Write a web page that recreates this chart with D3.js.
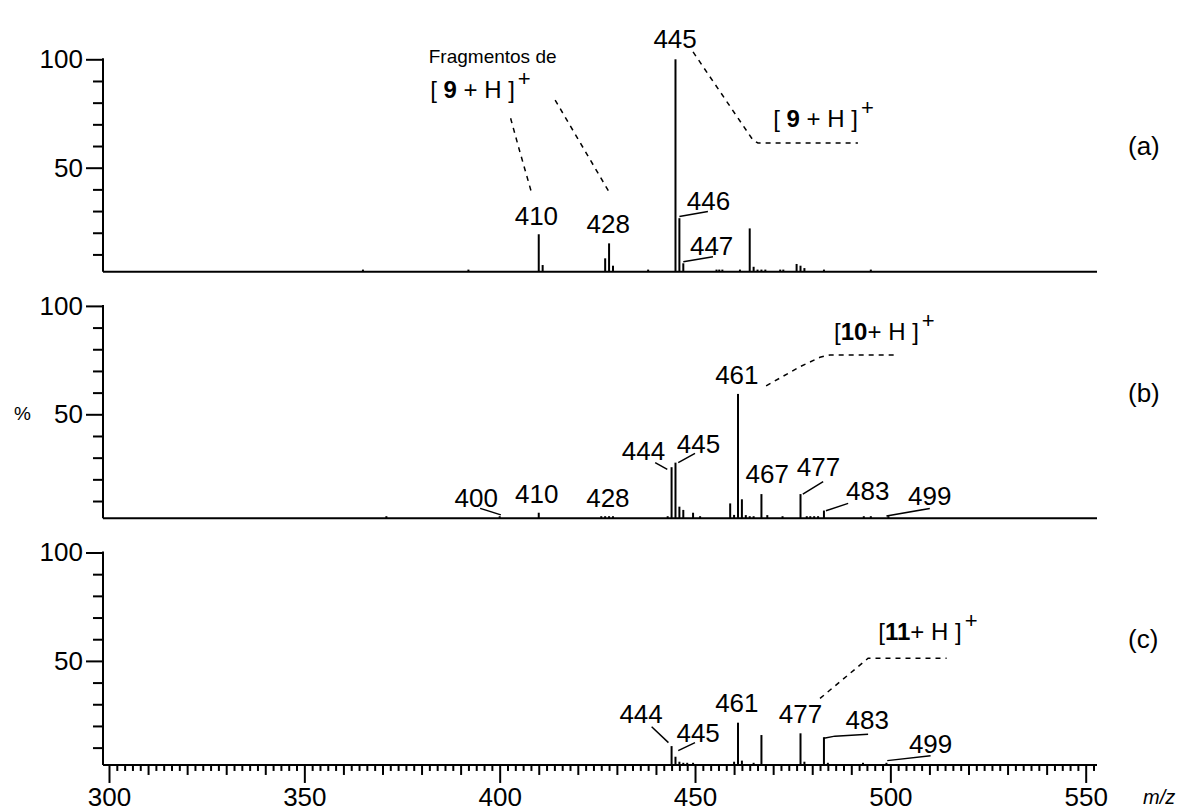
<!DOCTYPE html>
<html><head><meta charset="utf-8">
<script src="https://cdn.jsdelivr.net/npm/d3@7"></script>
<style>
body{margin:0;background:#fff}
svg{display:block}
text{font-family:"Liberation Sans",Arial,sans-serif;fill:#000;white-space:pre}
</style>
</head><body>
<svg id="c" width="1179" height="812"></svg>
<script>
// ---------- data ----------
const panelNames = ["(a)", "(b)", "(c)"];
const xMajorTicks = [300, 350, 400, 450, 500, 550];
const yMajorTicks = [50, 100];
const yMinorTicks = [10, 20, 30, 40, 60, 70, 80, 90];

// peaks: [m/z, relative intensity %]
const peaksA = [[365,3],[392,3],[410,19.3],[411,5.1],[427,8.2],[428,15.1],[429,4.8],[438,3],
  [445,100],[446,26.7],[447,5.9],[455.5,3],[456.2,3],[457,3],[461.5,3],[464,22],[465,4.3],
  [466,3],[467,3],[468,3],[471.8,3],[472.6,3],[476,5.6],[477,4.8],[478,3.7],[483,3],[495,3]];
const peaksB = [[371,3],[400,3],[410,4.6],[426,3],[427,3],[428,3],[429,3],[443,3],
  [444,25.6],[445,27.7],[446,7.4],[447,5.9],[449.5,4.6],[451.3,3],[459,8.9],[460,3.6],
  [461,59.4],[462,10.8],[463,3.5],[464,3],[465,3],[467,13.2],[468.5,3.5],[472.4,3],
  [477,13.2],[478.6,3],[479.5,3],[480.5,3],[481.5,3],[483,5.6],[493.2,3],[495,3],[499.5,3]];
const peaksC = [[444,10.7],[445,5.8],[446,3.5],[447,3],[448,3],[449.5,3],[460,3.5],
  [461,21.5],[462,4],[465,3],[467,15.8],[477,16.6],[478,3.5],[483,14.8],[484,3],[493,3],[499,3]];

// peak labels: [text, m/z, %, anchor]
const labelsA = [["445",444.9,105.1,"middle"],["410",409.4,23.6,"middle"],["428",427.8,19.7,"middle"],
  ["446",447.9,30.5,"start"],["447",448.7,9.7,"start"]];
const labelsB = [["400",394.0,7.4,"middle"],["410",409.5,9.2,"middle"],["428",427.7,7.4,"middle"],
  ["444",436.8,28.9,"middle"],["445",450.9,32.3,"middle"],["461",460.7,64,"middle"],
  ["467",468.5,18.2,"middle"],["477",481.6,21.5,"middle"],["483",494.2,10.5,"middle"],["499",510.1,8.2,"middle"]];
const labelsC = [["444",436.2,21.2,"middle"],["445",450.8,12.7,"middle"],["461",460.7,26.6,"middle"],
  ["477",477,21.2,"middle"],["483",494.1,18.5,"middle"],["499",510.3,7.7,"middle"]];

// solid leader lines (m/z, %)
const leadersA = [[[446,27.5],[453.3,29.8]],[[447,6.6],[454.6,8.9]]];
const leadersB = [[[395,6.6],[400.3,3.6]],[[439.8,27.7],[442.9,24.6]],[[445.7,27.7],[450,32]],
  [[477.6,13.2],[482.8,18.9]],[[483.5,5.5],[489.2,8.9]],[[499,3.1],[510.1,6.6]]];
const leadersC = [[[438.9,19.6],[443.2,12.3]],[[445.7,8.6],[450,12.3]],
  [[483,14.3],[485.8,15.3],[494.3,16.2]],[[499.2,4],[510.3,6.3]]];

// dashed callout lines (m/z, %)
const dashesA = [[[449.5,103.4],[464.8,62.8],[466.1,61.4],[491.7,61.4]],
  [[402.8,72.8],[404.8,59.7],[408.2,38.2]],
  [[414.2,81.2],[428.2,38.2]]];
const dashesB = [[[468.2,63.1],[476.9,72],[482,76.3],[484.5,77.4],[501.6,77.4]]];
const dashesC = [[[482,32.7],[494.3,51.2],[514.4,51.2]]];

// formula annotations: [compound number, m/z start, % baseline, spaced]
const formulasA = [["9",382.2,82.1,true],["9",470,68.9,true]];
const formulasB = [["10",485.6,84.3,false]];
const formulasC = [["11",496.9,59.6,false]];
const fragText = ["Fragmentos de", 398.2, 98.2];

const peaks = [peaksA, peaksB, peaksC];
const labels = [labelsA, labelsB, labelsC];
const leaders = [leadersA, leadersB, leadersC];
const dashes = [dashesA, dashesB, dashesC];
const formulas = [formulasA, formulasB, formulasC];

// ---------- drawing ----------
const PANEL_OFFSET = 246.6;
const BASE = 2;
const AXIS_X = 103, AXIS_END = 1097;
const x = d3.scaleLinear().domain([300, 550]).range([109, 1085.7]);
const y = d3.scaleLinear().domain([0, 100]).range([276.1, 59.3]);
const line = d3.line().x(d => x(d[0])).y(d => y(d[1]));
const svg = d3.select("#c");
svg.append("rect").attr("width", 1179).attr("height", 812).attr("fill", "#fff");

panelNames.forEach((name, i) => {
  const g = svg.append("g").attr("transform", `translate(0,${i * PANEL_OFFSET})`);

  // y axis
  const yMaj = g.append("g").attr("transform", `translate(${AXIS_X},0)`)
    .call(d3.axisLeft(y).tickValues(yMajorTicks).tickSize(17).tickPadding(3));
  const yMin = g.append("g").attr("transform", `translate(${AXIS_X},0)`)
    .call(d3.axisLeft(y).tickValues(yMinorTicks).tickSize(10).tickFormat(""));
  [yMaj, yMin].forEach(a => {
    a.select(".domain").remove();
    a.selectAll("line").attr("stroke", "#000").attr("stroke-width", 2);
    a.selectAll("text").attr("font-size", 26).attr("font-family", "Liberation Sans, Arial, sans-serif").attr("fill", "#000");
  });
  g.append("line").attr("x1", AXIS_X).attr("x2", AXIS_X).attr("y1", y(100) - 1).attr("y2", y(BASE))
    .attr("stroke", "#000").attr("stroke-width", 2);

  // baseline
  g.append("line").attr("x1", AXIS_X).attr("x2", AXIS_END).attr("y1", y(BASE)).attr("y2", y(BASE))
    .attr("stroke", "#000").attr("stroke-width", 2);

  // x axis ticks on bottom panel
  if (i === 2) {
    const mid = d3.range(300, 551, 10).filter(v => v % 50 !== 0);
    const minor = d3.range(302, 553, 2).filter(v => v % 10 !== 0);
    const specs = [[xMajorTicks, 18, d3.format("d")], [mid, 10, () => ""], [minor, 6, () => ""]];
    specs.forEach(([vals, size, fmt]) => {
      const a = g.append("g").attr("transform", `translate(0,${y(BASE)})`)
        .call(d3.axisBottom(x).tickValues(vals).tickSize(size).tickPadding(5).tickFormat(fmt));
      a.select(".domain").remove();
      a.selectAll("line").attr("stroke", "#000").attr("stroke-width", 2);
      a.selectAll("text").attr("font-size", 26).attr("font-family", "Liberation Sans, Arial, sans-serif").attr("fill", "#000");
    });
  }

  // peaks
  g.append("g").selectAll("line").data(peaks[i]).join("line")
    .attr("x1", d => x(d[0])).attr("x2", d => x(d[0]))
    .attr("y1", y(BASE)).attr("y2", d => y(d[1]))
    .attr("stroke", "#000").attr("stroke-width", 2);

  // leaders
  g.append("g").selectAll("path").data(leaders[i]).join("path")
    .attr("d", line).attr("fill", "none").attr("stroke", "#000").attr("stroke-width", 1.5);

  // dashed callouts
  g.append("g").selectAll("path").data(dashes[i]).join("path")
    .attr("d", line).attr("fill", "none").attr("stroke", "#000").attr("stroke-width", 1.5)
    .attr("stroke-dasharray", "5,5");

  // peak labels
  g.append("g").selectAll("text").data(labels[i]).join("text")
    .attr("x", d => x(d[1])).attr("y", d => y(d[2])).attr("text-anchor", d => d[3])
    .attr("font-size", 26).text(d => d[0]);

  // formulas
  formulas[i].forEach(([num, mz, v, spaced]) => {
    const t = g.append("text").attr("x", x(mz)).attr("y", y(v)).attr("font-size", 24);
    t.append("tspan").text(spaced ? "[ " : "[");
    t.append("tspan").attr("font-weight", "bold").text(num);
    t.append("tspan").text(spaced ? " + H ]" : "+ H ]");
    t.append("tspan").attr("dy", -12).attr("dx", 3).attr("font-size", 22).text("+");
  });

  if (i === 0) {
    g.append("text").attr("x", x(fragText[1])).attr("y", y(fragText[2]))
      .attr("text-anchor", "middle").attr("font-size", 19).text(fragText[0]);
  }

  // panel letter
  g.append("text").attr("x", 1128).attr("y", 155).attr("font-size", 26).text(name);
});

svg.append("text").attr("x", 14).attr("y", 420).attr("font-size", 19).text("%");
svg.append("text").attr("x", 1143).attr("y", 804).attr("font-size", 20)
  .attr("font-style", "italic").text("m/z");
</script>
</body></html>
